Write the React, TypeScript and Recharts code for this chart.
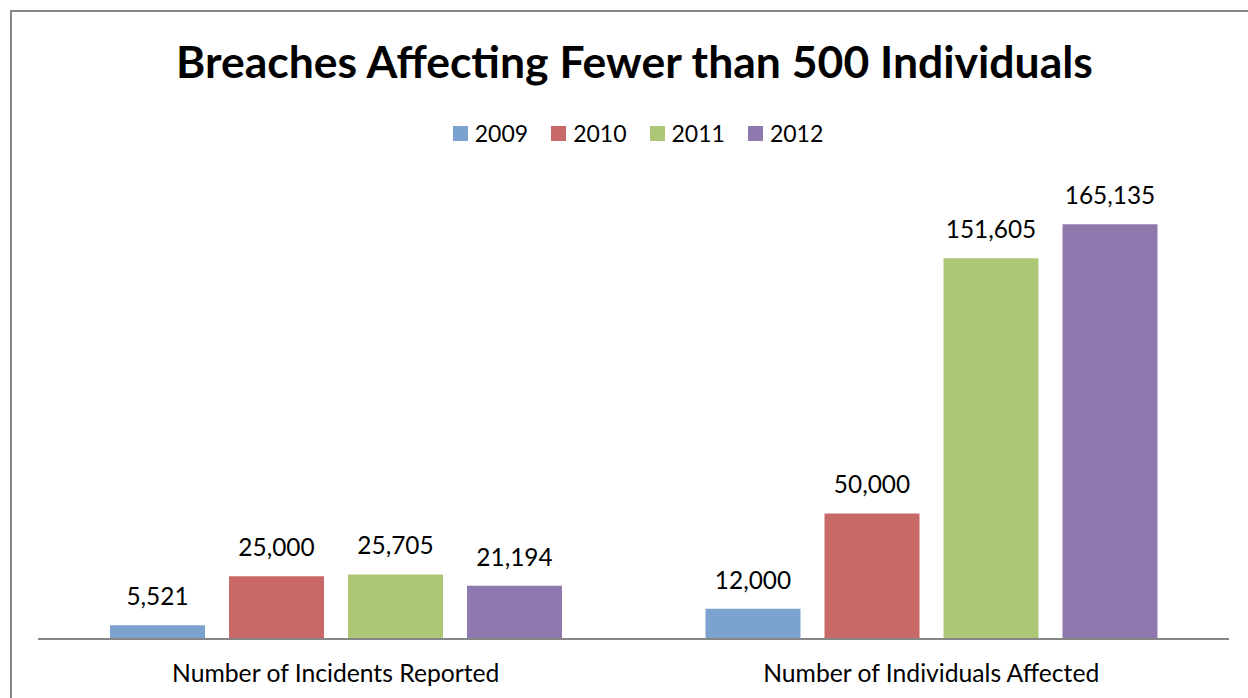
import { BarChart, Bar, XAxis, YAxis, LabelList } from 'recharts';

const categories = ['Number of Incidents Reported', 'Number of Individuals Affected'];
const years = ['2009', '2010', '2011', '2012'];
const values2009 = [5521, 12000];
const values2010 = [25000, 50000];
const values2011 = [25705, 151605];
const values2012 = [21194, 165135];

const yearColors: Record<string, string> = {
  '2009': '#7CA2CF',
  '2010': '#C86968',
  '2011': '#ADC777',
  '2012': '#8F78AD',
};

const seriesValues: Record<string, number[]> = {
  '2009': values2009,
  '2010': values2010,
  '2011': values2011,
  '2012': values2012,
};

const chartData = categories.map((name, i) => {
  const row: Record<string, string | number> = { name };
  years.forEach((y) => {
    row[y] = seriesValues[y][i];
  });
  return row;
});

const FONT = 'Lato, "DejaVu Sans", sans-serif';

function CategoryTick(props: any) {
  const { x, y, payload } = props;
  return (
    <text x={x} y={y + 43} textAnchor="middle" fontFamily={FONT} fontSize={24.7} fill="#000">
      {payload.value}
    </text>
  );
}

export default function App() {
  return (
    <div
      style={{
        position: 'fixed',
        left: 0,
        top: 0,
        width: 1248,
        height: 698,
        overflow: 'hidden',
        background: '#fff',
      }}
    >
      {/* chart frame, right and bottom edges fall outside the picture */}
      <div
        style={{
          position: 'absolute',
          left: 10,
          top: 10,
          width: 1300,
          height: 760,
          border: '2px solid #868686',
        }}
      />

      <div
        style={{
          position: 'absolute',
          left: 0,
          top: 38.5,
          width: 1269,
          textAlign: 'center',
          fontFamily: FONT,
          fontWeight: 700,
          fontSize: 44.5,
          lineHeight: '44.5px',
          color: '#000',
        }}
      >
        Breaches Affecting Fewer than 500 Individuals
      </div>

      <div
        style={{
          position: 'absolute',
          left: 0,
          top: 122,
          width: 1276,
          display: 'flex',
          justifyContent: 'center',
          alignItems: 'center',
          gap: 23,
          fontFamily: FONT,
          fontSize: 23,
          lineHeight: '23px',
          color: '#000',
        }}
      >
        {years.map((y) => (
          <div key={y} style={{ display: 'flex', alignItems: 'center' }}>
            <span style={{ width: 15, height: 15, background: yearColors[y], marginRight: 7 }} />
            <span>{y}</span>
          </div>
        ))}
      </div>

      <div style={{ position: 'absolute', left: 0, top: 0 }}>
        <BarChart
          width={1248}
          height={698}
          data={chartData}
          margin={{ top: 187, right: 19, bottom: 0, left: 38 }}
          barGap={24}
          barSize={95}
        >
          <XAxis
            dataKey="name"
            height={59}
            tickSize={0}
            tickMargin={0}
            tickLine={false}
            axisLine={{ stroke: '#868686', strokeWidth: 2 }}
            tick={<CategoryTick />}
            interval={0}
          />
          <YAxis hide domain={[0, 180000]} />
          {years.map((y) => (
            <Bar key={y} dataKey={y} fill={yearColors[y]} isAnimationActive={false}>
              <LabelList
                dataKey={y}
                position="top"
                offset={20}
                formatter={(v: any) => Number(v).toLocaleString('en-US')}
                style={{ fontFamily: FONT, fontSize: 24.4, fill: '#000' }}
              />
            </Bar>
          ))}
        </BarChart>
      </div>
    </div>
  );
}
